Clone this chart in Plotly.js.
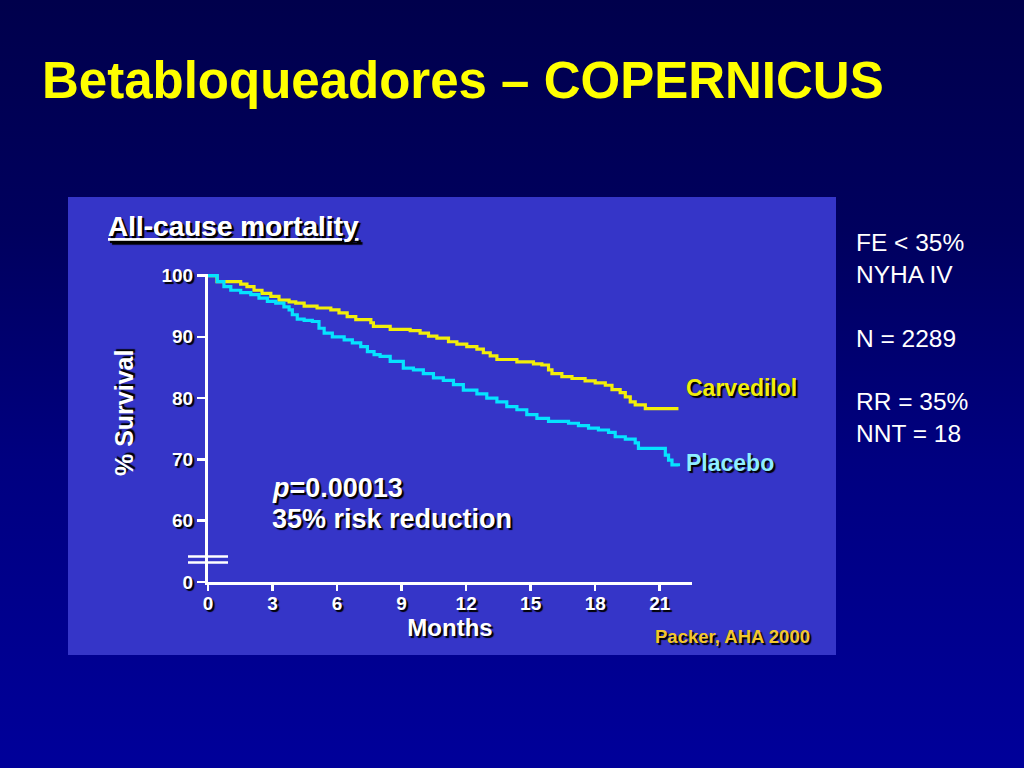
<!DOCTYPE html>
<html>
<head>
<meta charset="utf-8">
<script src="https://cdn.plot.ly/plotly-3.0.1.min.js"></script>
<style>
  html, body { margin: 0; padding: 0; }
  body {
    width: 1024px; height: 768px; overflow: hidden;
    background: linear-gradient(to bottom, #00004c 0%, #00005e 30%, #000080 60%, #00009a 100%);
  }
  #chart { width: 1024px; height: 768px; }
</style>
</head>
<body>
<div id="chart"></div>
<script>
const carvedilolMonths = [0, 0.42, 1.52, 1.81, 2.14, 2.51, 2.92, 3.30, 3.77, 4.08, 4.47, 5.07, 5.71, 6.09, 6.47, 6.87, 7.57, 7.69, 8.47, 9.40, 9.86, 10.25, 10.64, 11.18, 11.57, 12.03, 12.50, 12.80, 13.12, 13.43, 14.36, 15.13, 15.52, 15.83, 15.99, 16.45, 16.92, 17.53, 18.00, 18.47, 18.78, 19.16, 19.40, 19.63, 19.86, 20.33, 21.87];
const carvedilolSurvival = [100, 99.0, 98.6, 98.2, 97.6, 97.1, 96.6, 96.0, 95.7, 95.5, 95.0, 94.7, 94.4, 93.9, 93.3, 92.8, 92.3, 91.7, 91.2, 91.0, 90.6, 90.1, 89.8, 89.2, 88.8, 88.4, 88.0, 87.4, 86.9, 86.3, 85.9, 85.6, 85.4, 84.6, 84.0, 83.5, 83.2, 82.8, 82.5, 82.1, 81.4, 80.9, 80.2, 79.4, 78.9, 78.3, 78.3];

const placeboMonths = [0, 0.43, 0.74, 1.06, 1.52, 1.99, 2.37, 2.76, 3.15, 3.53, 3.77, 3.92, 4.15, 4.47, 4.85, 5.16, 5.40, 5.78, 6.33, 6.71, 7.10, 7.41, 7.72, 8.00, 8.47, 9.08, 9.55, 10.01, 10.48, 10.94, 11.41, 11.87, 12.50, 12.96, 13.43, 13.89, 14.36, 14.82, 15.29, 15.83, 16.76, 17.22, 17.69, 18.15, 18.62, 18.93, 19.40, 19.86, 20.01, 21.26, 21.41, 21.57, 21.87];
const placeboSurvival = [100, 99.0, 98.2, 97.6, 97.2, 96.9, 96.3, 95.8, 95.5, 94.9, 94.4, 93.6, 92.9, 92.7, 92.5, 91.4, 90.6, 90.0, 89.5, 89.0, 88.4, 87.6, 87.1, 86.8, 86.0, 84.9, 84.6, 84.0, 83.3, 82.9, 82.2, 81.3, 80.7, 80.0, 79.4, 78.6, 78.1, 77.3, 76.7, 76.2, 75.9, 75.5, 75.1, 74.8, 74.4, 73.7, 73.3, 72.7, 71.8, 70.7, 69.9, 69.1, 68.9];

const seriesNames = ['Carvedilol', 'Placebo'];
const xTickValues = [0, 3, 6, 9, 12, 15, 18, 21];
const yTickValues = [50, 60, 70, 80, 90, 100];      // 50 sits at the broken-axis origin
const yTickLabels = ['0', '60', '70', '80', '90', '100'];
const sideNotes = ['FE &lt; 35%', 'NYHA IV', '', 'N = 2289', '', 'RR = 35%', 'NNT = 18'];

// ---- Layout helpers (pixel -> paper) ----
const W = 1024, H = 768;
const M = { l: 208, r: 332, t: 274, b: 186 };
const PW = W - M.l - M.r, PH = H - M.t - M.b;
const xp = px => (px - M.l) / PW;
const yp = py => (H - M.b - py) / PH;

const FONT = 'Liberation Sans, Arial, Helvetica, sans-serif';
const SHADOW = '2px 2px 1px #000000';

const traces = [
  {
    x: carvedilolMonths, y: carvedilolSurvival, name: seriesNames[0],
    type: 'scatter', mode: 'lines', line: { shape: 'hv', color: '#f2ee0a', width: 3.2 },
    hoverinfo: 'skip'
  },
  {
    x: placeboMonths, y: placeboSurvival, name: seriesNames[1],
    type: 'scatter', mode: 'lines', line: { shape: 'hv', color: '#05e3ff', width: 3.2 },
    hoverinfo: 'skip'
  }
];

const layout = {
  width: W, height: H,
  margin: M,
  paper_bgcolor: 'rgba(0,0,0,0)',
  plot_bgcolor: 'rgba(0,0,0,0)',
  showlegend: false,
  font: { family: FONT, color: '#ffffff' },
  title: {
    text: 'Betabloqueadores – COPERNICUS',
    font: { family: FONT, size: 51, weight: 'bold', color: '#ffff00' },
    xref: 'container', yref: 'container',
    x: 42 / W, xanchor: 'left',
    y: 1 - 80 / H, yanchor: 'middle'
  },
  xaxis: {
    range: [0, 22.5],
    tickvals: xTickValues,
    ticktext: xTickValues.map(String),
    showgrid: false, zeroline: false,
    showline: true, linecolor: '#ffffff', linewidth: 3,
    ticks: 'outside', ticklen: 6, tickwidth: 2.5, tickcolor: '#ffffff',
    ticklabelstandoff: -4,
    tickfont: { family: FONT, size: 19, weight: 'bold', color: '#ffffff', shadow: SHADOW },
    title: {
      text: 'Months', standoff: 2,
      font: { family: FONT, size: 24, weight: 'bold', color: '#ffffff', shadow: SHADOW }
    },
    fixedrange: true
  },
  yaxis: {
    range: [50, 100.25],
    tickvals: yTickValues,
    ticktext: yTickLabels,
    showgrid: false, zeroline: false,
    showline: true, linecolor: '#ffffff', linewidth: 3,
    ticks: 'outside', ticklen: 8, tickwidth: 2.5, tickcolor: '#ffffff',
    tickfont: { family: FONT, size: 19, weight: 'bold', color: '#ffffff', shadow: SHADOW },
    fixedrange: true
  },
  shapes: [
    // blue chart panel
    { type: 'rect', xref: 'paper', yref: 'paper', layer: 'below',
      x0: xp(68), x1: xp(836), y0: yp(655), y1: yp(197),
      fillcolor: '#3535c8', line: { width: 0 } },
    // axis-break marks
    { type: 'line', xref: 'paper', yref: 'paper', x0: xp(188), x1: xp(228), y0: yp(556.5), y1: yp(556.5),
      line: { color: '#ffffff', width: 2.5 } },
    { type: 'line', xref: 'paper', yref: 'paper', x0: xp(188), x1: xp(228), y0: yp(562.5), y1: yp(562.5),
      line: { color: '#ffffff', width: 2.5 } }
  ],
  annotations: [
    { text: '<u>All-cause mortality</u>', xref: 'paper', yref: 'paper',
      x: xp(106), y: yp(226), xanchor: 'left', yanchor: 'middle', showarrow: false,
      font: { family: FONT, size: 28, weight: 'bold', color: '#ffffff', shadow: SHADOW } },
    { text: '% Survival', xref: 'paper', yref: 'paper', textangle: -90,
      x: xp(124), y: yp(413), xanchor: 'center', yanchor: 'middle', showarrow: false,
      font: { family: FONT, size: 25, weight: 'bold', color: '#ffffff', shadow: SHADOW } },
    { text: '<i>p</i>=0.00013', xref: 'paper', yref: 'paper',
      x: xp(270), y: yp(488), xanchor: 'left', yanchor: 'middle', showarrow: false,
      font: { family: FONT, size: 27, weight: 'bold', color: '#ffffff', shadow: SHADOW } },
    { text: '35% risk reduction', xref: 'paper', yref: 'paper',
      x: xp(270), y: yp(519), xanchor: 'left', yanchor: 'middle', showarrow: false,
      font: { family: FONT, size: 27, weight: 'bold', color: '#ffffff', shadow: SHADOW } },
    { text: seriesNames[0], xref: 'paper', yref: 'paper',
      x: xp(684), y: yp(388), xanchor: 'left', yanchor: 'middle', showarrow: false,
      font: { family: FONT, size: 23, weight: 'bold', color: '#f2ee0a', shadow: SHADOW } },
    { text: seriesNames[1], xref: 'paper', yref: 'paper',
      x: xp(684), y: yp(463), xanchor: 'left', yanchor: 'middle', showarrow: false,
      font: { family: FONT, size: 23, weight: 'bold', color: '#8eeeff', shadow: SHADOW } },
    { text: 'Packer, AHA 2000', xref: 'paper', yref: 'paper',
      x: xp(653), y: yp(636), xanchor: 'left', yanchor: 'middle', showarrow: false,
      font: { family: FONT, size: 18.5, weight: 'bold', color: '#f3c72a', shadow: SHADOW } },
    { text: sideNotes.join('<br>'), xref: 'paper', yref: 'paper',
      x: xp(854), y: yp(227), xanchor: 'left', yanchor: 'top', align: 'left', showarrow: false,
      font: { family: FONT, size: 24.5, color: '#ffffff' } }
  ]
};

Plotly.newPlot('chart', traces, layout, { displayModeBar: false, staticPlot: true });
</script>
</body>
</html>
